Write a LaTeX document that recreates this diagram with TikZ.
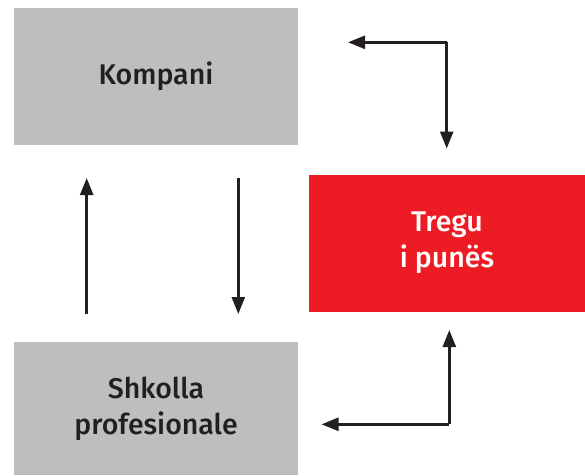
\documentclass[tikz,border=0pt]{standalone}
\usepackage{fontspec}
\setmainfont{Fira Sans}[UprightFont={* Medium}]
\usetikzlibrary{arrows.meta}
\definecolor{boxgray}{HTML}{BCBEC0}
\definecolor{boxred}{HTML}{ED1C24}
\definecolor{inkdark}{HTML}{231F20}
\tikzset{
  box/.style={fill=boxgray,text=inkdark,align=center,inner sep=0pt,font=\fontsize{28.5}{36}\selectfont},
  redbox/.style={box,fill=boxred,text=white},
  flow/.style={draw=inkdark,line width=2.5pt,-{Triangle[length=17pt,width=13pt]}}
}
\begin{document}
\begin{tikzpicture}[x=1pt,y=-1pt]
        \useasboundingbox (0,0) rectangle (585,475);

        \node[box,minimum width=284pt,minimum height=137pt] (firm) at (156,76.5) {Kompani};
        \node[redbox,minimum width=276pt,minimum height=137pt] (market) at (447,243) {Tregu\\i punës};
        \node[box,minimum width=284pt,minimum height=133pt] (school) at (156,408.5) {Shkolla\\profesionale};

        \coordinate (upfoot) at (86.7,314);
        \coordinate (uptip) at (86.7,178);
        \coordinate (downfoot) at (238.3,178);
        \coordinate (downtip) at (238.3,314);
        \coordinate (topbend) at (446.7,42.3);
        \coordinate (toptip) at (348,42.3);
        \coordinate (topfoot) at (446.7,148.5);
        \coordinate (lowbend) at (449.3,424.3);
        \coordinate (lowtip) at (321.5,424.3);
        \coordinate (lowfoot) at (449.3,330);

        \draw[flow] (upfoot) -- (uptip);
        \draw[flow] (downfoot) -- (downtip);
        \draw[flow] (topbend) -- (toptip);
        \draw[flow] (topbend) -- (topfoot);
        \draw[flow] (lowbend) -- (lowtip);
        \draw[flow] (lowbend) -- (lowfoot);
    \end{tikzpicture}
\end{document}
